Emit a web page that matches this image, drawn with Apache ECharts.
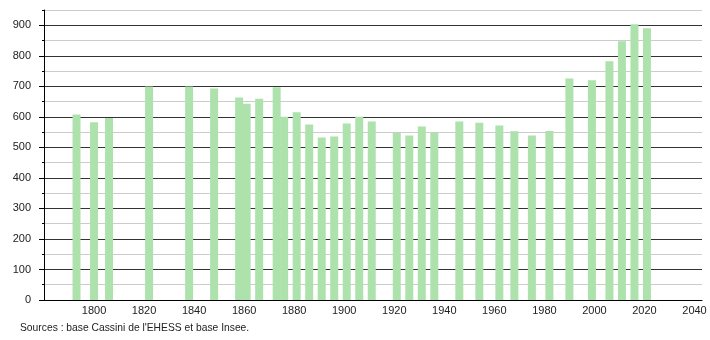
<!DOCTYPE html>
<html>
<head>
<meta charset="utf-8">
<script src="https://cdn.jsdelivr.net/npm/echarts@6/dist/echarts.min.js"></script>
<style>html,body{margin:0;padding:0;background:#fff;}#c{width:710px;height:340px;}</style>
</head>
<body>
<div id="c"></div>
<script>
var years = [1793, 1800, 1806, 1822, 1838, 1848, 1858, 1861, 1866, 1873, 1876, 1881, 1886, 1891, 1896, 1901, 1906, 1911, 1921, 1926, 1931, 1936, 1946, 1954, 1962, 1968, 1975, 1982, 1990, 1999, 2006, 2011, 2016, 2021];
var population = [608, 582, 596, 699, 699, 693, 663, 643, 659, 697, 600, 615, 575, 532, 536, 578, 600, 585, 548, 539, 568, 548, 585, 581, 572, 553, 539, 554, 726, 720, 782, 848, 903, 890];
var yTickLabels = ['0', '100', '200', '300', '400', '500', '600', '700', '800', '900'];
var xTickLabels = ['1800', '1820', '1840', '1860', '1880', '1900', '1920', '1940', '1960', '1980', '2000', '2020', '2040'];
var sourceText = "Sources : base Cassini de l'EHESS et base Insee.";

var data = years.map(function (y, i) { return [y, population[i]]; });
var font = '"Liberation Sans", Arial, sans-serif';
var chart = echarts.init(document.getElementById('c'), null, {renderer: 'canvas'});
chart.setOption({
  animation: false,
  backgroundColor: '#ffffff',
  grid: {left: 44, right: 8, top: 10, bottom: 40, containLabel: false},
  xAxis: {
    type: 'value', min: 1780, max: 2043, interval: 20,
    axisLine: {show: true, lineStyle: {color: '#000', width: 1}},
    axisTick: {show: false},
    splitLine: {show: false},
    axisLabel: {
      showMinLabel: false, showMaxLabel: false, margin: 5,
      color: '#222', fontSize: 11, fontFamily: font,
      formatter: function (v) { var s = String(v); return xTickLabels.indexOf(s) >= 0 ? s : ''; }
    }
  },
  yAxis: [{
    type: 'value', min: 0, max: 950, interval: 50,
    axisLine: {show: true, lineStyle: {color: '#000', width: 1}},
    axisTick: {show: true, length: 2, lineStyle: {color: '#000'}},
    splitLine: {show: true, lineStyle: {color: ['#333333', '#cccccc'], width: 1}},
    axisLabel: {
      margin: 13, color: '#222', fontSize: 11, fontFamily: font,
      formatter: function (v) { var s = String(v); return yTickLabels.indexOf(s) >= 0 ? s : ''; }
    }
  }, {
    type: 'value', min: 0, max: 950, interval: 100, position: 'left',
    axisLine: {show: false},
    axisTick: {show: true, length: 5, lineStyle: {color: '#000'}, customValues: [0,100,200,300,400,500,600,700,800,900]},
    splitLine: {show: false},
    axisLabel: {show: false}
  }],
  series: [{
    type: 'bar', data: data, barWidth: 8, yAxisIndex: 0,
    itemStyle: {color: '#ade2ad'},
    z: 3
  }],
  graphic: [{
    type: 'text', left: 20, top: 323,
    style: {text: sourceText, fill: '#222', fontSize: 10.3, fontFamily: font}
  }]
});
</script>
</body>
</html>
